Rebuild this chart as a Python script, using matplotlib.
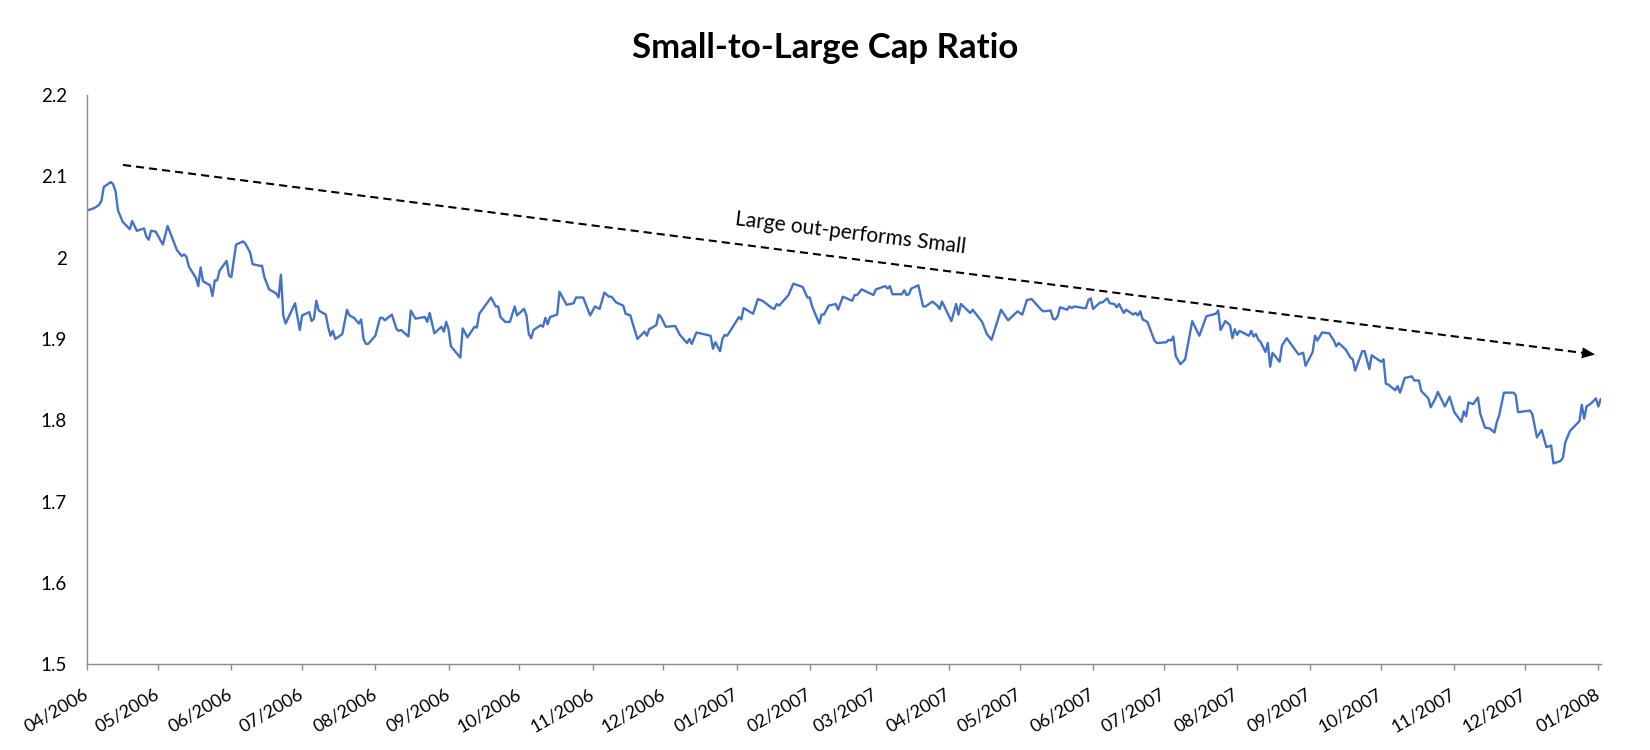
import matplotlib
matplotlib.use('Agg')
import matplotlib.pyplot as plt
import matplotlib.dates as mdates
import pandas as pd

# ---------------- data ----------------
start_date = '2006-04-01'
end_date = '2008-01-02'

# trading-day positions, as days after start_date
day_offsets = [
    0, 3, 5, 6, 7, 10, 11, 12, 13, 15, 18, 19, 21, 24, 25, 26, 27, 29, 32, 34,
    36, 38, 40, 41, 42, 43, 46, 47, 48, 49, 52, 53, 54, 55, 56, 59, 60, 61, 63, 66,
    67, 69, 70, 73, 74, 75, 77, 80, 81, 82, 83, 84, 88, 90, 91, 94, 95, 96, 97, 98,
    101, 102, 103, 104, 105, 108, 110, 111, 113, 115, 116, 117, 118, 119, 122, 124, 125, 126, 129, 131,
    132, 133, 136, 137, 139, 143, 144, 145, 147, 150, 151, 152, 153, 154, 158, 159, 161, 164, 165, 166,
    168, 171, 173, 174, 175, 177, 179, 181, 182, 185, 186, 187, 188, 189, 192, 193, 194, 195, 196, 199,
    200, 203, 206, 207, 210, 213, 215, 217, 219, 221, 222, 224, 227, 228, 230, 231, 233, 236, 237, 238,
    241, 242, 243, 245, 249, 251, 254, 255, 256, 258, 264, 265, 266, 268, 269, 270, 271, 276, 277, 278,
    282, 284, 286, 290, 291, 292, 293, 297, 299, 303, 305, 306, 307, 310, 311, 312, 314, 317, 318, 320,
    324, 325, 326, 328, 333, 334, 338, 339, 340, 341, 345, 346, 347, 348, 349, 352, 354, 355, 358, 360,
    361, 362, 366, 368, 369, 370, 374, 375, 379, 381, 383, 387, 390, 394, 396, 398, 400, 404, 405, 408,
    409, 410, 411, 412, 415, 416, 417, 418, 422, 423, 424, 425, 426, 429, 430, 432, 433, 435, 436, 437,
    439, 440, 442, 443, 444, 445, 446, 447, 449, 452, 453, 457, 458, 459, 460, 461, 463, 465, 468, 471,
    474, 478, 479, 480, 482, 484, 485, 486, 487, 488, 492, 493, 494, 495, 496, 497, 499, 500, 501, 502,
    505, 506, 508, 513, 515, 516, 519, 520, 521, 523, 526, 528, 529, 530, 533, 535, 536, 537, 540, 541,
    543, 544, 548, 549, 550, 551, 554, 555, 556, 558, 561, 562, 564, 565, 568, 569, 571, 572, 575, 577,
    579, 582, 583, 584, 585, 587, 589, 590, 592, 594, 596, 597, 598, 600, 604, 605, 606, 611, 612, 614,
    616, 618, 620, 621, 624, 625, 626, 628, 632, 633, 634, 635, 637, 639, 640, 641,
]

ratio = [
    2.058, 2.061, 2.065, 2.070, 2.087, 2.093, 2.090, 2.081, 2.058, 2.044, 2.035, 2.045, 2.033, 2.036, 2.026, 2.022, 2.033, 2.032, 2.016, 2.039,
    2.024, 2.009, 2.002, 2.004, 2.001, 1.989, 1.975, 1.965, 1.988, 1.971, 1.966, 1.953, 1.972, 1.972, 1.984, 1.996, 1.978, 1.976, 2.016, 2.020,
    2.017, 2.006, 1.992, 1.990, 1.990, 1.976, 1.961, 1.956, 1.951, 1.979, 1.929, 1.919, 1.944, 1.911, 1.929, 1.933, 1.922, 1.925, 1.947, 1.935,
    1.930, 1.915, 1.904, 1.910, 1.900, 1.906, 1.936, 1.929, 1.926, 1.919, 1.924, 1.900, 1.894, 1.894, 1.904, 1.926, 1.926, 1.923, 1.930, 1.912,
    1.910, 1.911, 1.903, 1.935, 1.925, 1.927, 1.921, 1.932, 1.907, 1.915, 1.909, 1.921, 1.912, 1.891, 1.877, 1.913, 1.902, 1.915, 1.914, 1.931,
    1.939, 1.951, 1.940, 1.940, 1.927, 1.921, 1.921, 1.940, 1.929, 1.937, 1.929, 1.906, 1.901, 1.911, 1.917, 1.915, 1.926, 1.918, 1.927, 1.930,
    1.958, 1.942, 1.944, 1.951, 1.951, 1.929, 1.940, 1.937, 1.957, 1.952, 1.952, 1.945, 1.941, 1.931, 1.929, 1.919, 1.900, 1.909, 1.904, 1.912,
    1.917, 1.930, 1.927, 1.915, 1.916, 1.905, 1.895, 1.900, 1.894, 1.908, 1.904, 1.888, 1.896, 1.885, 1.900, 1.905, 1.904, 1.927, 1.924, 1.938,
    1.931, 1.949, 1.947, 1.938, 1.937, 1.943, 1.941, 1.954, 1.968, 1.964, 1.951, 1.951, 1.940, 1.919, 1.930, 1.930, 1.941, 1.943, 1.936, 1.952,
    1.947, 1.954, 1.954, 1.961, 1.954, 1.961, 1.965, 1.962, 1.965, 1.955, 1.955, 1.960, 1.954, 1.955, 1.962, 1.966, 1.940, 1.940, 1.946, 1.941,
    1.937, 1.946, 1.922, 1.943, 1.930, 1.943, 1.932, 1.936, 1.921, 1.906, 1.899, 1.936, 1.923, 1.934, 1.930, 1.948, 1.949, 1.936, 1.934, 1.935,
    1.925, 1.924, 1.928, 1.939, 1.936, 1.940, 1.938, 1.940, 1.938, 1.938, 1.948, 1.950, 1.937, 1.945, 1.945, 1.950, 1.944, 1.943, 1.939, 1.943,
    1.932, 1.936, 1.932, 1.930, 1.932, 1.929, 1.934, 1.924, 1.921, 1.898, 1.895, 1.896, 1.899, 1.898, 1.903, 1.879, 1.869, 1.875, 1.922, 1.904,
    1.928, 1.931, 1.935, 1.911, 1.922, 1.917, 1.901, 1.912, 1.905, 1.910, 1.904, 1.910, 1.903, 1.906, 1.899, 1.896, 1.884, 1.895, 1.866, 1.883,
    1.872, 1.892, 1.901, 1.881, 1.883, 1.867, 1.884, 1.904, 1.898, 1.908, 1.907, 1.898, 1.891, 1.895, 1.887, 1.877, 1.875, 1.861, 1.885, 1.885,
    1.863, 1.880, 1.872, 1.875, 1.845, 1.844, 1.837, 1.842, 1.834, 1.852, 1.854, 1.849, 1.849, 1.836, 1.827, 1.816, 1.827, 1.835, 1.817, 1.829,
    1.810, 1.798, 1.811, 1.805, 1.822, 1.820, 1.828, 1.808, 1.791, 1.790, 1.785, 1.798, 1.806, 1.834, 1.834, 1.831, 1.810, 1.812, 1.808, 1.779,
    1.788, 1.767, 1.769, 1.747, 1.750, 1.754, 1.773, 1.787, 1.799, 1.819, 1.802, 1.817, 1.821, 1.827, 1.817, 1.826,
]

title_text = 'Small-to-Large Cap Ratio'
annotation_text = 'Large out-performs Small'

y_ticks = [1.5, 1.6, 1.7, 1.8, 1.9, 2.0, 2.1, 2.2]
y_tick_labels = ['1.5', '1.6', '1.7', '1.8', '1.9', '2', '2.1', '2.2']
x_tick_labels = ['04/2006', '05/2006', '06/2006', '07/2006', '08/2006', '09/2006',
                 '10/2006', '11/2006', '12/2006', '01/2007', '02/2007', '03/2007',
                 '04/2007', '05/2007', '06/2007', '07/2007', '08/2007', '09/2007',
                 '10/2007', '11/2007', '12/2007', '01/2008']

# ---------------- drawing ----------------
plt.rcParams['font.family'] = ['Lato', 'DejaVu Sans']

t0 = mdates.date2num(pd.Timestamp(start_date))
x_vals = [t0 + d for d in day_offsets]

W, H = 1650, 750
fig = plt.figure(figsize=(W / 100, H / 100), dpi=100)
fig.patch.set_facecolor('white')
left_px, right_px, top_px, bottom_px = 87.3, 1600.7, 95.0, 664.3
ax = fig.add_axes([left_px / W, 1 - bottom_px / H,
                   (right_px - left_px) / W, (bottom_px - top_px) / H])

ax.plot(x_vals, ratio, color='#4472C4', lw=1.7, solid_joinstyle='round')

ax.set_xlim(t0, mdates.date2num(pd.Timestamp(end_date)))
ax.set_ylim(1.5, 2.2)

month_ticks = mdates.date2num(pd.date_range(start_date, '2008-01-01', freq='MS'))
ax.set_xticks(month_ticks)
ax.set_xticklabels(x_tick_labels, rotation=30, ha='right', va='center',
                   rotation_mode='anchor')
ax.set_yticks(y_ticks)
ax.set_yticklabels(y_tick_labels)

axis_gray = '#8a8a8a'
for s in ['top', 'right']:
    ax.spines[s].set_visible(False)
for s in ['left', 'bottom']:
    ax.spines[s].set_color(axis_gray)
    ax.spines[s].set_linewidth(1.0)

ax.tick_params(axis='x', direction='out', length=4.3, width=1.0, color=axis_gray,
               pad=16.6, labelsize=13, labelcolor='black')
ax.tick_params(axis='y', length=0, pad=14.6, labelsize=13.5, labelcolor='black')

# dashed trend arrow
arrow_start = (t0 + 15.1, 2.114)
arrow_tip = (t0 + 638.6, 1.881)
arrow_base = (t0 + 633.1, 1.883)
ax.plot([arrow_start[0], arrow_base[0]], [arrow_start[1], arrow_base[1]],
        color='black', lw=1.5, linestyle=(0, (3.9, 2.4)), clip_on=False)
ax.annotate('', xy=arrow_tip, xytext=(t0 + 628.0, 1.8848),
            arrowprops=dict(arrowstyle='-|>,head_length=0.94,head_width=0.4',
                            color='black', lw=0, mutation_scale=10,
                            shrinkA=0, shrinkB=0))

ax.text(t0 + 323.3, 2.030, annotation_text, rotation=-7, rotation_mode='anchor',
        ha='center', va='center', fontsize=15, color='black')

fig.text(825 / W, 1 - 58 / H, title_text, ha='center', va='baseline',
         fontsize=25, fontweight='bold', color='black')

fig.savefig('out.png', dpi=100, facecolor='white')
